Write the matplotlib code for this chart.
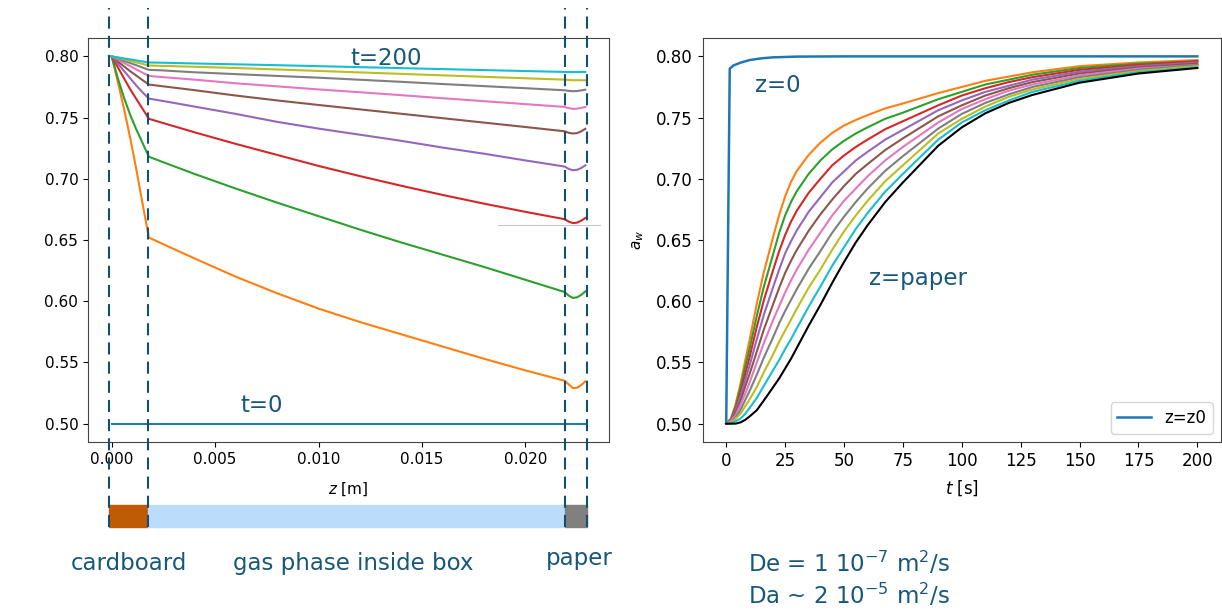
import matplotlib
matplotlib.use('Agg')
import matplotlib.pyplot as plt
from matplotlib.lines import Line2D
from matplotlib.patches import Rectangle
from matplotlib.transforms import blended_transform_factory

# left panel: a_w profiles along z at several times
z_pos = [0, 0.0003, 0.0006, 0.0009, 0.0012, 0.0015, 0.0018, 0.0025, 0.004, 0.006, 0.008,
         0.010, 0.012, 0.014, 0.016, 0.018, 0.020, 0.0219, 0.0221, 0.0223, 0.0225, 0.0227, 0.0229]
prof_t0 = [0.5] * len(z_pos)
prof_1 = [.800, .779, .757, .733, .707, .679, .652, .6465, .635, .620, .6065, .594, .583, .573,
          .563, .553, .5435, .535, .532, .529, .5293, .5315, .5345]
prof_2 = [.800, .782, .766, .752, .740, .729, .718, .7135, .704, .692, .6805, .6695, .6585, .648,
          .638, .628, .6175, .6075, .6045, .6027, .6032, .6052, .608]
prof_3 = [.800, .791, .782, .773, .765, .757, .749, .7455, .738, .7285, .7195, .7105, .7022, .6943,
          .6868, .6797, .673, .667, .665, .6638, .6642, .6658, .668]
prof_4 = [.800, .794, .788, .782, .776, .7705, .7655, .7635, .759, .753, .7465, .741, .736, .731,
          .7255, .7205, .715, .710, .708, .707, .7073, .7088, .711]
prof_5 = [.800, .7958, .7918, .7878, .7842, .7805, .777, .7755, .7724, .768, .764, .7603, .7567,
          .7531, .7495, .7459, .7423, .7388, .7375, .737, .7373, .7388, .7408]
prof_6 = [.800, .7973, .7946, .792, .7893, .7866, .784, .783, .781, .778, .7755, .773, .7707,
          .7683, .7658, .7634, .761, .7587, .7577, .7571, .7573, .7579, .7587]
prof_7 = [.800, .7982, .7963, .7945, .7927, .7908, .789, .7885, .787, .7855, .784, .7826, .7809,
          .7792, .7774, .7757, .774, .7723, .7718, .7715, .7717, .7722, .7728]
prof_8 = [.800, .7988, .7975, .7963, .795, .7938, .7925, .7922, .7915, .7905, .7893, .7881, .7869,
          .7857, .7845, .7833, .7821, .781, .7807, .7805, .7805, .7805, .7805]
prof_9 = [.800, .7992, .7983, .7975, .7967, .7958, .795, .7948, .7942, .7935, .7928, .792, .7912,
          .7904, .7896, .7888, .788, .7873, .7872, .7872, .7872, .7873, .7873]
profiles = [prof_t0, prof_1, prof_2, prof_3, prof_4, prof_5, prof_6, prof_7, prof_8, prof_9]

# right panel: a_w vs time at several positions
t_z0 = [0, 1.5, 3, 6, 10, 15, 20, 30, 50, 200]
aw_z0 = [0.5, 0.790, 0.7925, 0.7948, 0.797, 0.7984, 0.7992, 0.7998, 0.80, 0.80]

t_s = [0, 2, 4, 6, 8, 10, 13, 16, 20, 22.5, 25, 27.5, 30, 35, 40, 45, 50, 55, 60, 67.5, 75,
       90, 100, 110, 120, 130, 150, 175, 200]
aw_1 = [.500, .504, .516, .532, .551, .569, .598, .624, .653, .6705, .6855, .6975, .7065, .7195,
        .7295, .7375, .7435, .748, .752, .7575, .7615, .770, .775, .780, .7835, .787, .792, .795, .797]
aw_2 = [.500, .504, .514, .529, .546, .562, .588, .612, .639, .656, .670, .681, .690, .704,
        .715, .724, .731, .737, .742, .749, .754, .765, .771, .777, .781, .785, .7905, .794, .796]
aw_3 = [.500, .503, .512, .525, .540, .555, .579, .601, .626, .641, .654, .665, .674, .6885,
        .700, .711, .719, .726, .732, .7405, .747, .760, .768, .774, .779, .783, .789, .793, .796]
aw_4 = [.500, .503, .511, .522, .535, .548, .569, .589, .612, .626, .639, .649, .658, .673,
        .685, .697, .706, .715, .722, .732, .740, .756, .764, .771, .776, .781, .7875, .792, .795]
aw_5 = [.500, .502, .509, .518, .530, .541, .559, .577, .598, .611, .623, .633, .642, .6575,
        .671, .683, .694, .704, .712, .7235, .733, .751, .760, .768, .774, .779, .786, .791, .794]
aw_6 = [.500, .502, .507, .515, .524, .534, .550, .566, .585, .596, .607, .617, .626, .642,
        .656, .670, .682, .692, .702, .715, .726, .746, .757, .765, .772, .777, .7845, .790, .793]
aw_7 = [.500, .501, .505, .511, .519, .527, .540, .554, .571, .582, .592, .601, .610, .6265,
        .641, .656, .669, .681, .692, .7065, .7185, .741, .753, .762, .769, .775, .783, .789, .793]
aw_8 = [.500, .501, .504, .508, .514, .520, .530, .542, .557, .567, .576, .585, .594, .611,
        .626, .642, .657, .670, .682, .698, .711, .737, .749, .759, .767, .773, .7815, .788, .792]
aw_9 = [.500, .500, .502, .504, .508, .513, .521, .531, .544, .552, .561, .569, .578, .5955,
        .612, .629, .644, .659, .672, .6895, .704, .732, .746, .756, .764, .771, .780, .787, .791]
aw_10 = [.500, .500, .500, .501, .503, .506, .511, .519, .530, .537, .545, .553, .562, .580,
         .597, .615, .632, .648, .662, .681, .697, .727, .742, .7535, .762, .7685, .7785, .786, .7905]
aw_curves = [aw_1, aw_2, aw_3, aw_4, aw_5, aw_6, aw_7, aw_8, aw_9, aw_10]
aw_colors = ['C1', 'C2', 'C3', 'C4', 'C5', 'C6', 'C7', 'C8', 'C9', 'k']

# layer boundaries drawn as dashed lines, and the layer bar below the plot
layer_edges = [-0.00015, 0.00175, 0.0219, 0.0230]
layer_names = ['cardboard', 'gas phase inside box', 'paper']
layer_colors = ['#bf5b04', '#bbdcfb', '#808080']

txt_col = '#17587a'
dash_col = '#12506e'

fig = plt.figure(figsize=(12.22, 6.10), dpi=100)
ax1 = fig.add_axes([0.0720, 0.2754, 0.4264, 0.6623])
ax2 = fig.add_axes([0.5750, 0.2754, 0.4241, 0.6623])

for i, p in enumerate(profiles):
    ax1.plot(z_pos, p, color='C%d' % i, lw=1.5)
ax1.set_xlabel('$z$ [m]', fontsize=11, labelpad=10)
ax1.tick_params(labelsize=11)
ax1.set_yticks([0.50, 0.55, 0.60, 0.65, 0.70, 0.75, 0.80])

ax2.plot(t_z0, aw_z0, color='C0', lw=1.8, label='z=z0')
for c, col in zip(aw_curves, aw_colors):
    ax2.plot(t_s, c, color=col, lw=1.5)
ax2.set_xlabel('$t$ [s]', fontsize=12, labelpad=6)
ax2.set_ylabel('$a_w$', fontsize=11, labelpad=7)
ax2.tick_params(labelsize=12)
ax2.set_yticks([0.50, 0.55, 0.60, 0.65, 0.70, 0.75, 0.80])
ax2.legend(loc='lower right', fontsize=12)

for ax in (ax1, ax2):
    for s in ax.spines.values():
        s.set_color('#444444')

trans = blended_transform_factory(ax1.transData, fig.transFigure)
for k in range(3):
    fig.add_artist(Rectangle((layer_edges[k], 0.1361), layer_edges[k + 1] - layer_edges[k], 0.0361,
                             transform=trans, color=layer_colors[k], zorder=1))
for x in layer_edges:
    fig.add_artist(Line2D([x, x], [0.1361, 0.987], transform=trans, color=dash_col, lw=1.5,
                          linestyle=(0, (5.8, 3.4)), zorder=3))

# stray grey line from the slide
fig.add_artist(Line2D([498 / 1222, 600 / 1222], [1 - 225 / 610, 1 - 225 / 610], color='#c8c8c8', lw=0.8))

fs = 16.5
fig.text(0.2864, 0.8934, 't=200', color=txt_col, fontsize=fs)
fig.text(0.1964, 0.3241, 't=0', color=txt_col, fontsize=fs)
fig.text(0.6178, 0.8497, 'z=0', color=txt_col, fontsize=fs)
fig.text(0.7111, 0.5328, 'z=paper', color=txt_col, fontsize=fs)
fig.text(0.0583, 0.0656, layer_names[0], color=txt_col, fontsize=fs)
fig.text(0.1903, 0.0656, layer_names[1], color=txt_col, fontsize=fs)
fig.text(0.4466, 0.0738, layer_names[2], color=txt_col, fontsize=fs)
fig.text(0.6121, 0.0628, 'De = 1 10$^{-7}$ m$^2$/s', color=txt_col, fontsize=fs)
fig.text(0.6121, 0.0098, 'Da ~ 2 10$^{-5}$ m$^2$/s', color=txt_col, fontsize=fs)

fig.savefig('out.png', dpi=100)
